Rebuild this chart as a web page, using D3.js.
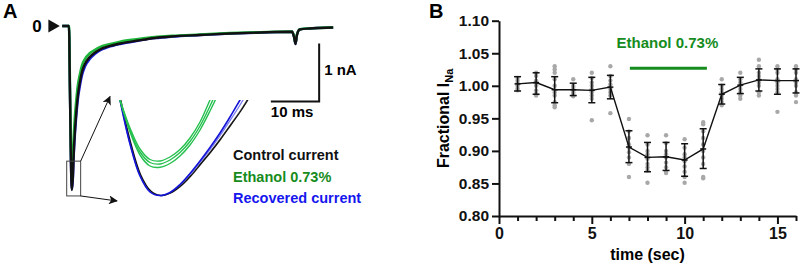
<!DOCTYPE html>
<html lang="en">
<head>
<meta charset="UTF-8" />
<title>Ethanol and sodium current</title>
<style>
  body { margin: 0; background: #fff; }
  svg { display: block; font-family: "Liberation Sans", Arial, sans-serif; font-weight: bold; }
</style>
</head>
<body>
<div id="chart"></div>
<script src="https://cdn.jsdelivr.net/npm/d3@7"></script>
<script>
// ---- panel A: current traces (ms, nA) ----
var traceTime = [-1.2, 0.2, 0.4, 0.6, 0.8, 1.0, 1.2, 1.45, 1.75, 2.05, 2.5, 2.9, 3.5, 4.5, 5.6, 6.6,
                 8.3, 10.8, 14.5, 18, 21.5, 27.3, 33.5, 39.8, 46.4, 46.8, 47.1, 47.4, 48, 50, 52.2, 54.9];
var controlTrace = [0, 0, -1.10, -2.31, -2.83, -2.62, -2.17, -1.79, -1.45, -1.19, -0.95, -0.79, -0.655, -0.535, -0.457, -0.405,
                    -0.353, -0.302, -0.250, -0.207, -0.181, -0.155, -0.129, -0.112, -0.100, -0.19, -0.31, -0.155, -0.060, -0.043, -0.034, -0.026];
var ethanolTrace = [0, 0, -1.00, -2.10, -2.52, -2.30, -1.90, -1.55, -1.25, -1.02, -0.82, -0.68, -0.57, -0.47, -0.41, -0.365,
                    -0.32, -0.27, -0.225, -0.19, -0.17, -0.147, -0.123, -0.108, -0.097, -0.18, -0.29, -0.15, -0.055, -0.040, -0.032, -0.024];
var recoveredTrace = [0, 0, -1.10, -2.30, -2.82, -2.65, -2.22, -1.85, -1.52, -1.26, -1.02, -0.85, -0.70, -0.57, -0.48, -0.42,
                      -0.365, -0.31, -0.255, -0.21, -0.183, -0.156, -0.130, -0.113, -0.100, -0.19, -0.31, -0.155, -0.058, -0.042, -0.033, -0.025];

// zoomed region round the peak
var zoomBoxTime = [-0.27, 2.62];
var zoomBoxCurrent = [-2.33, -2.93];

// inset (expanded peak), ms from start of the window
var insetTime = [0, 0.1, 0.2, 0.3, 0.4, 0.5, 0.6, 0.7, 0.8, 0.9, 1.0, 1.1, 1.2, 1.3];
var insetControl = [-2.400, -2.615, -2.775, -2.855, -2.8775, -2.865, -2.830, -2.780, -2.720, -2.660, -2.595, -2.525, -2.455, -2.375];
var insetRecovered1 = [-2.400, -2.620, -2.780, -2.860, -2.8775, -2.8625, -2.8225, -2.7675, -2.705, -2.6375, -2.565, -2.485, -2.400, -2.315];
var insetRecovered2 = [-2.400, -2.618, -2.778, -2.858, -2.878, -2.864, -2.826, -2.773, -2.712, -2.648, -2.578, -2.503, -2.425, -2.340];
var insetEthanol1 = [-2.400, -2.560, -2.675, -2.730, -2.7365, -2.7175, -2.680, -2.625, -2.550, -2.455, -2.350];
var insetEthanol2 = [-2.400, -2.550, -2.660, -2.7125, -2.720, -2.700, -2.6625, -2.6075, -2.530, -2.430, -2.320];
var insetEthanol3 = [-2.400, -2.540, -2.645, -2.6975, -2.705, -2.685, -2.6475, -2.590, -2.510, -2.400, -2.290];

var legendLabels = ["Control current", "Ethanol 0.73%", "Recovered current"];
var legendColors = ["#111111", "#178c1c", "#1616ee"];

// ---- panel B: fractional INa over time ----
var timeSec = [1, 2, 3, 4, 5, 6, 7, 8, 9, 10, 11, 12, 13, 14, 15, 16];
var meanINa = [1.003, 1.005, 0.994, 0.994, 0.993, 0.998, 0.906, 0.890, 0.891, 0.886, 0.903, 0.987, 1.001, 1.009, 1.008, 1.008];
var errLow = [0.992, 0.987, 0.974, 0.985, 0.974, 0.980, 0.882, 0.868, 0.870, 0.861, 0.873, 0.972, 0.988, 0.992, 0.987, 0.989];
var errHigh = [1.014, 1.020, 1.014, 1.004, 1.013, 1.016, 0.931, 0.913, 0.913, 0.911, 0.934, 1.002, 1.013, 1.026, 1.026, 1.026];
var cellValues = [
  [1.012, 1.008, 1.004, 1.002, 1.0, 0.996, 0.993],
  [1.02, 1.015, 1.008, 1.005, 1.0, 0.993, 0.988, 0.985],
  [1.03, 1.025, 1.02, 1.01, 1.0, 0.99, 0.985, 0.975, 0.97, 0.967],
  [1.01, 1.0, 0.998, 0.994, 0.99, 0.987, 0.984],
  [1.02, 1.012, 1.005, 1.0, 0.995, 0.99, 0.985, 0.98, 0.947],
  [1.03, 1.015, 1.008, 1.002, 0.995, 0.99, 0.985, 0.958],
  [0.949, 0.93, 0.92, 0.91, 0.905, 0.898, 0.89, 0.88, 0.86],
  [0.924, 0.91, 0.9, 0.895, 0.888, 0.88, 0.875, 0.87, 0.851],
  [0.924, 0.912, 0.9, 0.895, 0.89, 0.882, 0.875, 0.868, 0.866],
  [0.918, 0.905, 0.895, 0.89, 0.884, 0.876, 0.868, 0.86, 0.851],
  [0.944, 0.941, 0.93, 0.92, 0.91, 0.9, 0.89, 0.88, 0.86, 0.858],
  [1.01, 1.0, 0.995, 0.99, 0.985, 0.98, 0.975, 0.97],
  [1.02, 1.01, 1.005, 1.0, 0.995, 0.99, 0.985, 0.98],
  [1.04, 1.03, 1.02, 1.015, 1.01, 1.005, 1.0, 0.99, 0.985],
  [1.03, 1.025, 1.02, 1.01, 1.005, 1.0, 0.995, 0.99, 0.96],
  [1.03, 1.025, 1.02, 1.01, 1.005, 1.0, 0.99, 0.985, 0.975]
];
var yTicks = [0.80, 0.85, 0.90, 0.95, 1.00, 1.05, 1.10];
var xMajorTicks = [0, 5, 10, 15];
var xMinorTicks = [1, 2, 3, 4, 6, 7, 8, 9, 11, 12, 13, 14, 16];
var ethanolPeriod = [7.05, 11.2];

var w = 803, h = 270;
var svg = d3.select("#chart").append("svg")
  .attr("width", w)
  .attr("height", h);

svg.append("rect").attr("width", w).attr("height", h).attr("fill", "#fff");

// ================= A =================
var xA = d3.scaleLinear().domain([0, 10]).range([68, 116.3]);
var yA = d3.scaleLinear().domain([0, -1]).range([26, 84]);

svg.append("text").attr("x", 3).attr("y", 18).style("font-size", "20px").text("A");

var traceLine = d3.line()
  .x(function(d, i) { return xA(traceTime[i]); })
  .y(function(d) { return yA(d); })
  .curve(d3.curveMonotoneX);

var traces = [
  { values: recoveredTrace, color: "#1a1ad8", width: 2.4 },
  { values: ethanolTrace, color: "#1fb53a", width: 2.6 },
  { values: controlTrace, color: "#111", width: 2.4 }
];
svg.selectAll("path.trace")
  .data(traces)
  .enter().append("path")
  .attr("class", "trace")
  .attr("d", function(d) { return traceLine(d.values); })
  .attr("fill", "none")
  .attr("stroke", function(d) { return d.color; })
  .attr("stroke-width", function(d) { return d.width; })
  .attr("stroke-linejoin", "round");

// zero marker
svg.append("text")
  .attr("x", xA(-1.2) - 30).attr("y", yA(0) + 6)
  .style("font-size", "17px")
  .text("0");
svg.append("path")
  .attr("d", d3.symbol().type(d3.symbolTriangle).size(75)())
  .attr("transform", "translate(" + (xA(-1.2) - 10) + "," + yA(0) + ") rotate(90)")
  .attr("fill", "#111");

// scale bars 10 ms / 1 nA
var barX = xA(52.0), barY = yA(-1.30);
svg.append("path")
  .attr("d", "M" + (barX - (xA(10) - xA(0))) + "," + barY + "H" + barX + "V" + (barY - (yA(-1) - yA(0))))
  .attr("fill", "none").attr("stroke", "#111").attr("stroke-width", 2);
svg.append("text").attr("x", barX + 5).attr("y", barY - 26).style("font-size", "15px").text("1 nA");
svg.append("text").attr("x", barX - (xA(10) - xA(0))).attr("y", barY + 16).style("font-size", "15px").text("10 ms");

// zoom box
var bx0 = xA(zoomBoxTime[0]), bx1 = xA(zoomBoxTime[1]);
var by0 = yA(zoomBoxCurrent[0]), by1 = yA(zoomBoxCurrent[1]);
svg.append("rect")
  .attr("x", bx0).attr("y", by0)
  .attr("width", bx1 - bx0).attr("height", by1 - by0)
  .attr("fill", "none").attr("stroke", "#444").attr("stroke-width", 1);

// inset
var xIn = d3.scaleLinear().domain([0, 1.27]).range([120, 247]);
var yIn = d3.scaleLinear().domain([-2.40, -2.875]).range([100, 195]);

svg.append("defs").append("clipPath").attr("id", "insetClip")
  .append("rect").attr("x", 110).attr("y", yIn(-2.40)).attr("width", 160).attr("height", 110);
svg.select("defs").append("marker")
  .attr("id", "arrow")
  .attr("viewBox", "0 0 10 10")
  .attr("refX", 9).attr("refY", 5)
  .attr("markerWidth", 9).attr("markerHeight", 9)
  .attr("markerUnits", "userSpaceOnUse")
  .attr("orient", "auto")
  .append("path").attr("d", "M0,0L10,5L0,10L2.5,5Z").attr("fill", "#111");

svg.append("line")
  .attr("x1", bx1).attr("y1", by0).attr("x2", xIn(0) - 10).attr("y2", yIn(-2.40) - 3.5)
  .attr("stroke", "#111").attr("stroke-width", 1).attr("marker-end", "url(#arrow)");
svg.append("line")
  .attr("x1", bx1).attr("y1", by1).attr("x2", xIn(0) - 3).attr("y2", yIn(-2.875) + 6)
  .attr("stroke", "#111").attr("stroke-width", 1).attr("marker-end", "url(#arrow)");

var insetLine = d3.line()
  .x(function(d, i) { return xIn(insetTime[i]); })
  .y(function(d) { return yIn(d); })
  .curve(d3.curveCatmullRom);

var insetCurves = [
  { values: insetControl, color: "#666", width: 1 },
  { values: insetRecovered2, color: "#7a7af0", width: 1.3 },
  { values: insetControl, color: "#111", width: 1.3, dx: 0.8 },
  { values: insetRecovered1, color: "#1414d8", width: 1.6 },
  { values: insetEthanol1, color: "#25c04e", width: 1.4 },
  { values: insetEthanol2, color: "#25c04e", width: 1.4 },
  { values: insetEthanol3, color: "#25c04e", width: 1.4 }
];
svg.append("g").attr("clip-path", "url(#insetClip)")
  .selectAll("path")
  .data(insetCurves)
  .enter().append("path")
  .attr("d", function(d) { return insetLine(d.values); })
  .attr("transform", function(d) { return "translate(" + (d.dx || 0) + ",0)"; })
  .attr("fill", "none")
  .attr("stroke", function(d) { return d.color; })
  .attr("stroke-width", function(d) { return d.width; });

// legend
svg.selectAll("text.legend")
  .data(legendLabels)
  .enter().append("text")
  .attr("class", "legend")
  .attr("x", 233)
  .attr("y", function(d, i) { return 160 + i * 21.5; })
  .attr("fill", function(d, i) { return legendColors[i]; })
  .style("font-size", "14.5px")
  .text(function(d) { return d; });

// ================= B =================
var xB = d3.scaleLinear().domain([0, 16]).range([499, 796]);
var yB = d3.scaleLinear().domain([0.80, 1.10]).range([216, 20.7]);

svg.append("text").attr("x", 429).attr("y", 18).style("font-size", "20px").text("B");

var yAxis = d3.axisLeft(yB).tickValues(yTicks).tickFormat(d3.format(".2f"))
  .tickSize(7).tickSizeOuter(0).tickPadding(3);
var gy = svg.append("g").attr("transform", "translate(" + xB(0) + ",0)").call(yAxis);

var xAxis = d3.axisBottom(xB).tickValues(xMajorTicks).tickFormat(d3.format("d"))
  .tickSize(8).tickSizeOuter(0).tickPadding(4);
var gx = svg.append("g").attr("transform", "translate(0," + yB(0.80) + ")").call(xAxis);
var gxMinor = svg.append("g").attr("transform", "translate(0," + yB(0.80) + ")")
  .call(d3.axisBottom(xB).tickValues(xMinorTicks).tickSize(5).tickSizeOuter(0).tickFormat(""));
gxMinor.select(".domain").remove();

[gy, gx, gxMinor].forEach(function(g) {
  g.selectAll("path, line").attr("stroke", "#111").attr("stroke-width", 2);
  g.selectAll("text").attr("fill", "#111")
    .style("font-family", "\"Liberation Sans\", Arial, sans-serif")
    .style("font-weight", "bold").style("font-size", "15.5px");
});
gx.selectAll("text").style("font-size", "16px");

// axis titles
svg.append("text")
  .attr("x", (xB(0) + xB(16)) / 2).attr("y", 260)
  .attr("text-anchor", "middle").style("font-size", "16px")
  .text("time (sec)");
var ylab = svg.append("text")
  .attr("transform", "translate(449," + (yB(0.80) + yB(1.10)) / 2 + ") rotate(-90)")
  .attr("text-anchor", "middle").style("font-size", "16px");
ylab.append("tspan").text("Fractional I");
ylab.append("tspan").attr("dy", 4).style("font-size", "11px").text("Na");

// individual cells
var dots = [];
cellValues.forEach(function(vals, i) {
  vals.forEach(function(v) { dots.push({ t: timeSec[i], v: v }); });
});
svg.selectAll("circle.cell")
  .data(dots)
  .enter().append("circle")
  .attr("class", "cell")
  .attr("cx", function(d) { return xB(d.t); })
  .attr("cy", function(d) { return yB(d.v); })
  .attr("r", 2.2)
  .attr("fill", "#a8a8a8");

// error bars
var eb = svg.selectAll("g.err")
  .data(timeSec)
  .enter().append("g")
  .attr("class", "err");
eb.append("line")
  .attr("x1", function(d) { return xB(d); }).attr("x2", function(d) { return xB(d); })
  .attr("y1", function(d, i) { return yB(errLow[i]); })
  .attr("y2", function(d, i) { return yB(errHigh[i]); });
eb.append("line")
  .attr("x1", function(d) { return xB(d) - 3.5; }).attr("x2", function(d) { return xB(d) + 3.5; })
  .attr("y1", function(d, i) { return yB(errLow[i]); })
  .attr("y2", function(d, i) { return yB(errLow[i]); });
eb.append("line")
  .attr("x1", function(d) { return xB(d) - 3.5; }).attr("x2", function(d) { return xB(d) + 3.5; })
  .attr("y1", function(d, i) { return yB(errHigh[i]); })
  .attr("y2", function(d, i) { return yB(errHigh[i]); });
eb.append("line")
  .attr("x1", function(d) { return xB(d) - 3; }).attr("x2", function(d) { return xB(d) + 3; })
  .attr("y1", function(d, i) { return yB(meanINa[i]); })
  .attr("y2", function(d, i) { return yB(meanINa[i]); });
eb.selectAll("line").attr("stroke", "#111").attr("stroke-width", 1.5);

// mean line
svg.append("path")
  .datum(meanINa)
  .attr("d", d3.line()
    .x(function(d, i) { return xB(timeSec[i]); })
    .y(function(d) { return yB(d); }))
  .attr("fill", "none")
  .attr("stroke", "#111")
  .attr("stroke-width", 1.4);

// ethanol application
svg.append("line")
  .attr("x1", xB(ethanolPeriod[0])).attr("x2", xB(ethanolPeriod[1]))
  .attr("y1", yB(1.027)).attr("y2", yB(1.027))
  .attr("stroke", "#168c1e").attr("stroke-width", 3);
svg.append("text")
  .attr("x", xB((ethanolPeriod[0] + ethanolPeriod[1]) / 2) - 1).attr("y", yB(1.058))
  .attr("text-anchor", "middle").attr("fill", "#168c1e")
  .style("font-size", "15px")
  .text("Ethanol 0.73%");
</script>
</body>
</html>
